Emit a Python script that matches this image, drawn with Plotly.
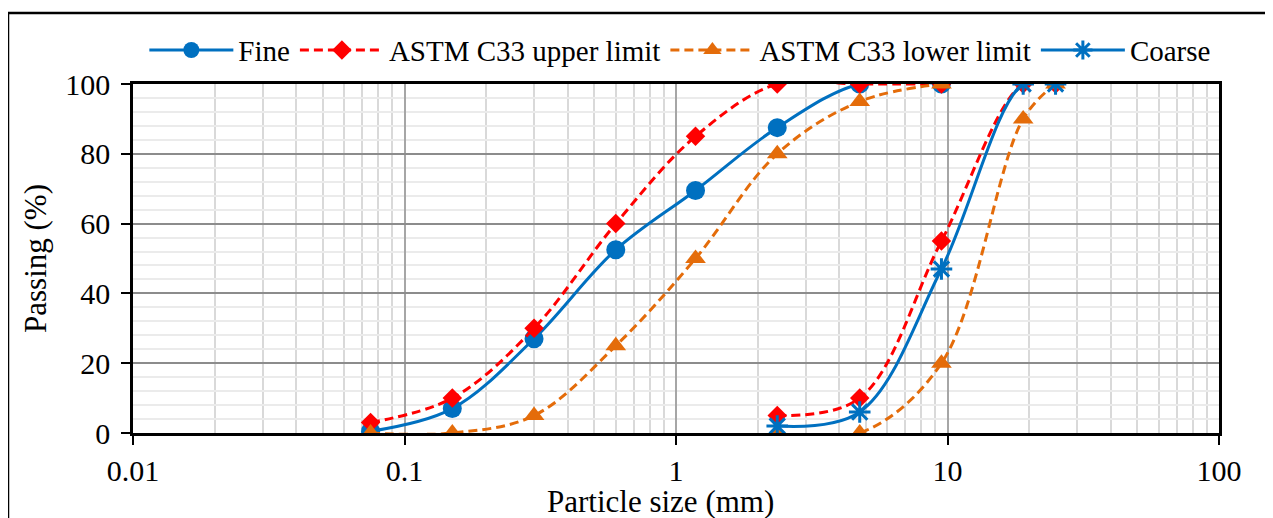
import plotly.graph_objects as go

# ---- data ----
fine_sizes = [0.075, 0.15, 0.3, 0.6, 1.18, 2.36, 4.75, 9.5]
fine_passing = [0.5, 7, 27, 52.5, 69.5, 87.5, 100, 100]
fine_upper = [3, 10, 30, 60, 85, 100, 100, 100]
fine_lower = [0, 0, 5, 25, 50, 80, 95, 100]

coarse_sizes = [2.36, 4.75, 9.5, 19, 25]
coarse_passing = [2, 6, 47, 100, 100]
coarse_upper = [5, 10, 55, 100, 100]
coarse_lower = [0, 0, 20, 90, 100]

x_ticks = [0.01, 0.1, 1, 10, 100]
x_tick_labels = ["0.01", "0.1", "1", "10", "100"]

BLUE = "#0070C0"
RED = "#FF0000"
ORANGE = "#E46C0A"
FONT = "Liberation Serif"

fig = go.Figure()

fig.add_trace(go.Scatter(
    x=fine_sizes, y=fine_passing, name="Fine", mode="lines+markers",
    line=dict(color=BLUE, width=3, shape="spline"),
    marker=dict(symbol="circle", size=19, color=BLUE)))

fig.add_trace(go.Scatter(
    x=fine_sizes + [None] + coarse_sizes, y=fine_upper + [None] + coarse_upper,
    name="ASTM C33 upper limit", mode="lines+markers", connectgaps=False,
    line=dict(color=RED, width=3, dash="9px,5px", shape="spline"),
    marker=dict(symbol="diamond", size=15, color=RED)))

fig.add_trace(go.Scatter(
    x=fine_sizes + [None] + coarse_sizes, y=fine_lower + [None] + coarse_lower,
    name="ASTM C33 lower limit", mode="lines+markers", connectgaps=False,
    line=dict(color=ORANGE, width=3, dash="9px,5px", shape="spline"),
    marker=dict(symbol="triangle-up", size=18, color=ORANGE)))

fig.add_trace(go.Scatter(
    x=coarse_sizes, y=coarse_passing, name="Coarse", mode="lines+markers",
    line=dict(color=BLUE, width=3, shape="spline"),
    marker=dict(symbol="asterisk-open", size=18, color=BLUE,
                line=dict(color=BLUE, width=3))))

fig.update_layout(
    width=1273, height=518,
    margin=dict(l=125, r=62, t=76, b=93, autoexpand=False),
    paper_bgcolor="white", plot_bgcolor="white",
    font=dict(family=FONT, size=30, color="black"),
    showlegend=True,
    legend=dict(orientation="h", x=0.504, xanchor="center", xref="paper",
                y=1.097, yanchor="middle", font=dict(size=29),
                itemwidth=84, bgcolor="rgba(0,0,0,0)", tracegroupgap=0),
    xaxis=dict(
        type="log", range=[-2, 2],
        tickvals=x_ticks, ticktext=x_tick_labels,
        ticks="outside", ticklen=9, tickwidth=2, tickcolor="black",
        showline=True, linecolor="black", linewidth=2.5, mirror=True,
        showgrid=True, gridcolor="#A6A6A6", gridwidth=1.5,
        minor=dict(showgrid=True, dtick="D1", gridcolor="#D9D9D9",
                   gridwidth=1.5, ticks=""),
        automargin=False, zeroline=False,
    ),
    yaxis=dict(
        range=[0, 100], dtick=20,
        ticks="outside", ticklen=9, tickwidth=2, tickcolor="black",
        showline=True, linecolor="black", linewidth=2.5, mirror=True,
        showgrid=True, gridcolor="#8C8C8C", gridwidth=2,
        minor=dict(showgrid=True, dtick=4, gridcolor="#EBEBEB",
                   gridwidth=1.5, ticks=""),
        title=dict(text="Passing (%)", font=dict(size=31), standoff=10),
        automargin=False, zeroline=False, ticklabelstandoff=5,
    ),
    annotations=[
        dict(text="Particle size (mm)", xref="paper", yref="paper",
             x=0.486, y=-0.197, xanchor="center", yanchor="middle",
             showarrow=False, font=dict(size=31)),
    ],
    shapes=[
        dict(type="line", xref="paper", yref="paper",
             x0=-0.1151, x1=1.047, y0=1.2034, y1=1.2034,
             line=dict(color="black", width=2.5)),
        dict(type="line", xref="paper", yref="paper",
             x0=-0.1151, x1=-0.1151, y0=1.2034, y1=-0.27,
             line=dict(color="black", width=2.5)),
        dict(type="line", xref="paper", yref="paper",
             x0=1.047, x1=1.047, y0=1.2034, y1=-0.27,
             line=dict(color="#D9D9D9", width=1.5)),
    ],
)

fig.write_html("out.html")
